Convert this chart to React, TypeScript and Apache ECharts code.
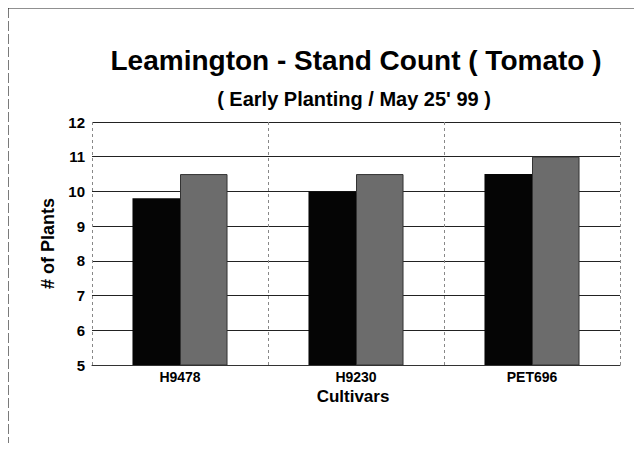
import React, { useEffect, useRef } from "react";
import * as echarts from "echarts";

const categories = ["H9478", "H9230", "PET696"];
const seriesA = [9.8, 10.0, 10.5];
const seriesB = [10.5, 10.5, 11.0];
const yTicks = { min: 5, max: 12, interval: 1 };

const FONT = "Liberation Sans, Arial, sans-serif";

export default function App() {
  const ref = useRef<HTMLDivElement>(null);
  useEffect(() => {
    const chart = echarts.init(ref.current!, null, { renderer: "svg" });
    chart.setOption({
      animation: false,
      backgroundColor: "#fff",
      title: [
        {
          text: "Leamington - Stand Count ( Tomato )",
          left: 343,
          top: 33,
          textAlign: "center",
          textStyle: { fontFamily: FONT, fontWeight: "bold", fontSize: 28, color: "#000" },
        },
        {
          text: "( Early Planting / May 25' 99 )",
          left: 341,
          top: 76,
          textAlign: "center",
          textStyle: { fontFamily: FONT, fontWeight: "bold", fontSize: 20, color: "#000" },
        },
      ],
      graphic: [
        {
          type: "line",
          shape: { x1: 0, y1: 0, x2: 640, y2: 0 },
          style: { stroke: "#222", lineWidth: 1.2 },
          silent: true,
        },
        {
          type: "line",
          shape: { x1: 0, y1: 0, x2: 0, y2: 440 },
          style: { stroke: "#222", lineWidth: 1.2, lineDash: [10, 3] },
          silent: true,
        },
        {
          type: "text",
          x: 345,
          y: 380,
          style: { text: "Cultivars", font: "bold 17px " + FONT, fill: "#000", align: "center" },
        },
      ],
      grid: { left: 84, right: 22, top: 114, bottom: 78, containLabel: false },
      xAxis: {
        type: "category",
        data: categories,
        axisLine: { lineStyle: { color: "#333", width: 1 } },
        axisTick: { show: false },
        splitLine: { show: true, lineStyle: { color: "#888", type: [3, 3] } },
        axisLabel: { color: "#000", fontWeight: "bold", fontSize: 14, fontFamily: FONT, margin: 5 },
      },
      yAxis: {
        type: "value",
        min: yTicks.min,
        max: yTicks.max,
        interval: yTicks.interval,
        name: "# of Plants",
        nameLocation: "middle",
        nameGap: 34,
        nameRotate: 90,
        nameTextStyle: { color: "#000", fontWeight: "bold", fontSize: 18, fontFamily: FONT },
        axisLine: { show: false },
        axisTick: { show: false },
        splitLine: { lineStyle: { color: "#222", width: 1 } },
        axisLabel: { color: "#000", fontWeight: "bold", fontSize: 15, fontFamily: FONT, margin: 7 },
      },
      series: [
        {
          type: "bar",
          data: seriesA,
          barWidth: "27%",
          barGap: "0%",
          itemStyle: { color: "#050505" },
        },
        {
          type: "bar",
          data: seriesB,
          barWidth: "27%",
          itemStyle: { color: "#6c6c6c", borderColor: "#333", borderWidth: 1 },
        },
      ],
    });
    return () => chart.dispose();
  }, []);
  return <div ref={ref} style={{ width: 634, height: 435 }} />;
}
